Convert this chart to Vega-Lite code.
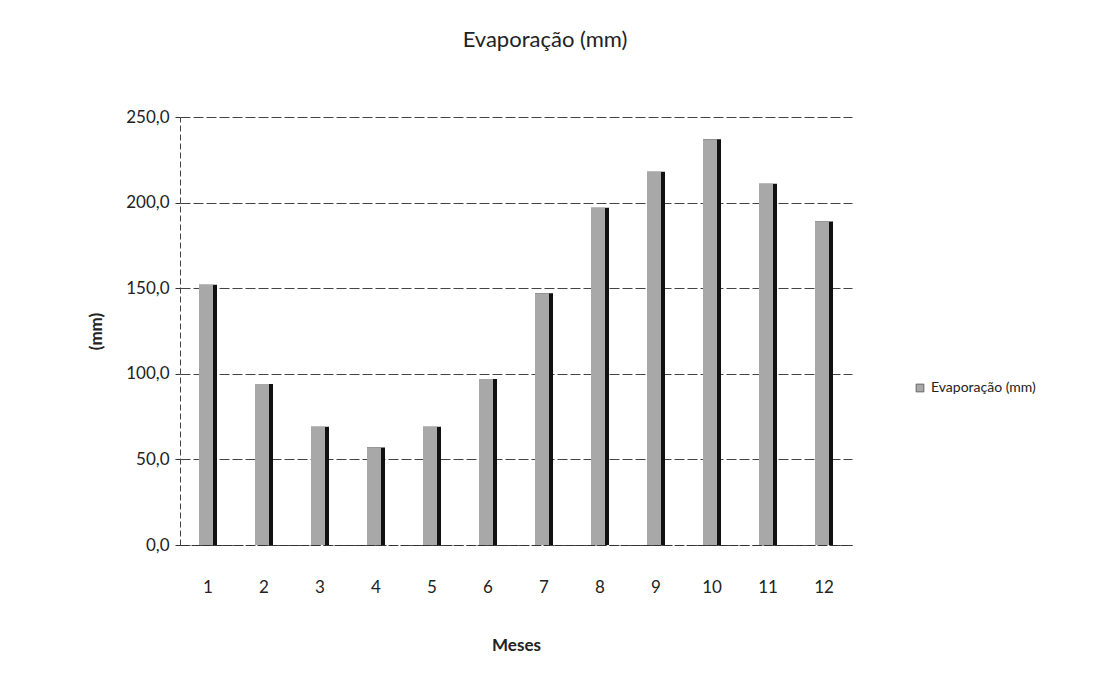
{
  "$schema": "https://vega.github.io/schema/vega-lite/v6.json",
  "autosize": {"type": "none"},
  "width": 672,
  "height": 428,
  "padding": {"left": 180, "top": 117, "right": 254, "bottom": 148},
  "background": "white",
  "title": {
    "text": "Evaporação (mm)",
    "font": "Lato",
    "fontSize": 22,
    "fontWeight": "normal",
    "color": "#222",
    "offset": 56,
    "dx": 29
  },
  "data": {
    "values": [
      {"mes": 1, "evap": 152, "serie": "Evaporação (mm)"},
      {"mes": 2, "evap": 94, "serie": "Evaporação (mm)"},
      {"mes": 3, "evap": 69, "serie": "Evaporação (mm)"},
      {"mes": 4, "evap": 57, "serie": "Evaporação (mm)"},
      {"mes": 5, "evap": 69, "serie": "Evaporação (mm)"},
      {"mes": 6, "evap": 97, "serie": "Evaporação (mm)"},
      {"mes": 7, "evap": 147, "serie": "Evaporação (mm)"},
      {"mes": 8, "evap": 197, "serie": "Evaporação (mm)"},
      {"mes": 9, "evap": 218, "serie": "Evaporação (mm)"},
      {"mes": 10, "evap": 237, "serie": "Evaporação (mm)"},
      {"mes": 11, "evap": 211, "serie": "Evaporação (mm)"},
      {"mes": 12, "evap": 189, "serie": "Evaporação (mm)"}
    ]
  },
  "encoding": {
    "x": {
      "field": "mes",
      "type": "ordinal",
      "title": "Meses",
      "axis": {
        "labelAngle": 0,
        "labelFont": "Lato",
        "labelFontSize": 17,
        "labelColor": "#222",
        "labelPadding": 34,
        "titleFont": "Lato",
        "titleFontSize": 17,
        "titleFontWeight": "bold",
        "titleColor": "#222",
        "titlePadding": 42,
        "ticks": false,
        "domainColor": "#333",
        "domainDash": [8, 3]
      }
    },
    "y": {
      "field": "evap",
      "type": "quantitative",
      "title": "(mm)",
      "scale": {"domain": [0, 250]},
      "axis": {
        "values": [0, 50, 100, 150, 200, 250],
        "labelExpr": "replace(format(datum.value, '.1f'), '.', ',')",
        "labelFont": "Lato",
        "labelFontSize": 17,
        "labelColor": "#222",
        "labelPadding": 6,
        "titleFont": "Lato",
        "titleFontSize": 17,
        "titleFontWeight": "bold",
        "titleColor": "#222",
        "titlePadding": 20,
        "ticks": true,
        "tickColor": "#333",
        "tickSize": 5,
        "domainColor": "#444",
        "domainDash": [6, 3],
        "gridColor": "#444",
        "gridDash": [10, 3],
        "gridWidth": 1
      }
    }
  },
  "layer": [
    {
      "mark": {"type": "bar", "width": 18, "color": "#111"}
    },
    {
      "mark": {"type": "bar", "width": 14, "xOffset": -2},
      "encoding": {
        "fill": {
          "field": "serie",
          "type": "nominal",
          "scale": {"range": ["#a8a8a8"]},
          "legend": {
            "title": null,
            "orient": "none",
            "legendX": 733,
            "legendY": 264,
            "labelFont": "Lato",
            "labelFontSize": 14,
            "labelColor": "#222",
            "symbolType": "square",
            "symbolSize": 60,
            "symbolStrokeColor": "#666",
            "symbolStrokeWidth": 1
          }
        }
      }
    }
  ],
  "config": {
    "view": {"stroke": null}
  }
}
